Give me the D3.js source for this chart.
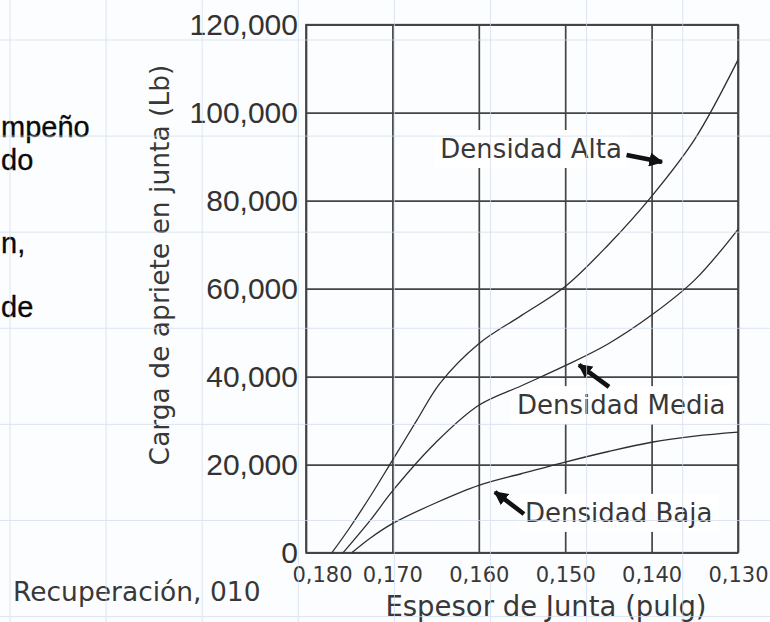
<!DOCTYPE html>
<html lang="es">
<head>
  <meta charset="utf-8">
  <title>Carga de apriete vs espesor de junta</title>
  <script src="https://cdn.jsdelivr.net/npm/d3@7/dist/d3.min.js"></script>
  <style>
    * { box-sizing: border-box; margin: 0; padding: 0; }
    body { background: #fcfdfe; overflow: hidden; }
    svg { display: block; }
    .lbl { font-family: "DejaVu Sans", Verdana, sans-serif; fill: #383838; }
    .ytick text { font-family: "Liberation Sans", Arial, sans-serif; font-size: 30px; fill: #333; }
    .xtick text { font-family: "DejaVu Sans", Verdana, sans-serif; font-size: 21px; fill: #383838; }
    .frag { font-family: "Liberation Sans", Arial, sans-serif; font-size: 29px; fill: #0a0a0a; stroke: #0a0a0a; stroke-width: 0.3px; }
  </style>
</head>
<body>
  <svg id="chart" width="770" height="622"></svg>

  <script>
    // ticks
    const thicknessTicks = [0.180, 0.170, 0.160, 0.150, 0.140, 0.130]
    const thicknessTickLabels = ['0,180', '0,170', '0,160', '0,150', '0,140', '0,130']
    const loadTicks = [0, 20000, 40000, 60000, 80000, 100000, 120000]
    const loadTickLabels = ['0', '20,000', '40,000', '60,000', '80,000', '100,000', '120,000']

    // curves (thickness in, load lb)
    const altaThk  = [0.1770, 0.1750, 0.1725, 0.1700, 0.1672, 0.1645, 0.1600, 0.1550, 0.1500, 0.1450, 0.1400, 0.1350, 0.1300]
    const altaLoad = [0, 5500, 13000, 21000, 30000, 38500, 47500, 54000, 60500, 70000, 81000, 94000, 112000]

    const mediaThk  = [0.1757, 0.1725, 0.1700, 0.1650, 0.1600, 0.1550, 0.1500, 0.1450, 0.1400, 0.1350, 0.1300]
    const mediaLoad = [0, 7500, 14000, 25000, 33500, 38000, 42500, 47500, 54000, 62000, 73500]

    const bajaThk  = [0.1747, 0.1725, 0.1700, 0.1650, 0.1600, 0.1550, 0.1500, 0.1450, 0.1400, 0.1350, 0.1300]
    const bajaLoad = [0, 3400, 6600, 11300, 15300, 18000, 20600, 23000, 25100, 26500, 27400]

    // labels with arrows, in data units
    const labelTexts  = ['Densidad Alta', 'Densidad Media', 'Densidad Baja']
    const labelAt     = [[0.14343, 89700], [0.15558, 31500], [0.15465, 7000]]
    const labelAnchor = ['end', 'start', 'start']
    const arrowTail   = [[0.14290, 90400], [0.14493, 37700], [0.15477, 8800]]
    const arrowTip    = [[0.13880, 88800], [0.14840, 42700], [0.15813, 13800]]

    // cut-off text at the left of the page
    const fragTexts = ['mpeño', 'do', 'n,', 'de']
    const fragBase  = [137, 170, 253, 317]

    const svg = d3.select('#chart')

    const x = d3.scaleLinear().domain([0.180, 0.130]).range([306, 738])
    const y = d3.scaleLinear().domain([0, 120000]).range([552.7, 24.7])
    const W = x.range()[1] - x.range()[0]
    const H = y.range()[0] - y.range()[1]

    // left fragments
    svg.append('g').selectAll('text')
      .data(fragTexts)
      .join('text')
      .attr('class', 'frag')
      .attr('x', 1)
      .attr('y', (d, i) => fragBase[i])
      .text(d => d)

    const plot = svg.append('g')

    // grid
    plot.append('g')
      .attr('transform', 'translate(0,' + y.range()[0] + ')')
      .call(d3.axisBottom(x).tickValues(thicknessTicks).tickSize(-H).tickFormat(''))
      .call(g => g.select('.domain').remove())
      .selectAll('line').attr('stroke', '#444').attr('stroke-width', 1.7)

    plot.append('g')
      .attr('transform', 'translate(' + x.range()[0] + ',0)')
      .call(d3.axisLeft(y).tickValues(loadTicks).tickSize(-W).tickFormat(''))
      .call(g => g.select('.domain').remove())
      .selectAll('line').attr('stroke', '#444').attr('stroke-width', 1.7)

    plot.append('rect')
      .attr('x', x.range()[0]).attr('y', y.range()[1])
      .attr('width', W).attr('height', H)
      .attr('fill', 'none').attr('stroke', '#444').attr('stroke-width', 1.7)

    // label boxes + labels
    const labels = plot.append('g')
    labelTexts.forEach((t, i) => {
      const txt = labels.append('text')
        .attr('class', 'lbl')
        .attr('font-size', 26)
        .attr('x', x(labelAt[i][0]))
        .attr('y', y(labelAt[i][1]))
        .attr('text-anchor', labelAnchor[i])
        .text(t)
      const b = txt.node().getBBox()
      labels.insert('rect', 'text')
        .attr('x', b.x - 6).attr('y', b.y - 4)
        .attr('width', b.width + 12).attr('height', b.height + 8)
        .attr('fill', '#fff')
    })

    // curves
    const line = d3.line()
      .x(d => x(d[0]))
      .y(d => y(d[1]))
      .curve(d3.curveCatmullRom.alpha(0.5))

    const series = [
      d3.zip(altaThk, altaLoad),
      d3.zip(mediaThk, mediaLoad),
      d3.zip(bajaThk, bajaLoad)
    ]

    plot.append('g').selectAll('path')
      .data(series)
      .join('path')
      .attr('d', line)
      .attr('fill', 'none')
      .attr('stroke', '#2e2e2e')
      .attr('stroke-width', 1.3)

    // arrows
    const defs = svg.append('defs')
    defs.append('marker')
      .attr('id', 'head')
      .attr('viewBox', '0 -5 10 10')
      .attr('refX', 9).attr('refY', 0)
      .attr('markerWidth', 14).attr('markerHeight', 14)
      .attr('markerUnits', 'userSpaceOnUse')
      .attr('orient', 'auto')
      .append('path').attr('d', 'M0,-5L10,0L0,5Z').attr('fill', '#111')

    plot.append('g').selectAll('line')
      .data(arrowTip)
      .join('line')
      .attr('x1', (d, i) => x(arrowTail[i][0]))
      .attr('y1', (d, i) => y(arrowTail[i][1]))
      .attr('x2', d => x(d[0]))
      .attr('y2', d => y(d[1]))
      .attr('stroke', '#111')
      .attr('stroke-width', 4.5)
      .attr('marker-end', 'url(#head)')

    // axes labels
    const yAx = svg.append('g')
      .attr('class', 'ytick')
      .attr('transform', 'translate(' + x.range()[0] + ',0)')
      .call(d3.axisLeft(y).tickValues(loadTicks).tickSize(0).tickPadding(8)
        .tickFormat((d, i) => loadTickLabels[i]))
    yAx.select('.domain').remove()

    const xAx = svg.append('g')
      .attr('class', 'xtick')
      .attr('transform', 'translate(0,' + y.range()[0] + ')')
      .call(d3.axisBottom(x).tickValues(thicknessTicks).tickSize(0).tickPadding(14)
        .tickFormat((d, i) => thicknessTickLabels[i]))
    xAx.select('.domain').remove()
    xAx.selectAll('text').attr('dx', (d, i) => i === 0 ? 16 : 0)

    svg.append('text')
      .attr('class', 'lbl')
      .attr('font-size', 27.5)
      .attr('text-anchor', 'middle')
      .attr('x', 546).attr('y', 616)
      .text('Espesor de Junta (pulg)')

    svg.append('text')
      .attr('class', 'lbl')
      .attr('font-size', 26.5)
      .attr('text-anchor', 'middle')
      .attr('transform', 'translate(169,265) rotate(-90)')
      .text('Carga de apriete en junta (Lb)')

    svg.append('text')
      .attr('class', 'lbl')
      .attr('font-size', 26.5)
      .attr('x', 13).attr('y', 601)
      .text('Recuperación, 010')

    // faint page grid over everything
    const step = 96.1
    const pg = svg.append('g').attr('stroke', '#cfdcec').attr('stroke-width', 1).attr('opacity', 0.7)
    pg.selectAll('line.v')
      .data(d3.range(10, 770, step))
      .join('line').attr('class', 'v')
      .attr('x1', d => d).attr('x2', d => d).attr('y1', 0).attr('y2', 622)
    pg.selectAll('line.h')
      .data(d3.range(40, 622, step))
      .join('line').attr('class', 'h')
      .attr('y1', d => d).attr('y2', d => d).attr('x1', 0).attr('x2', 770)
  </script>
</body>
</html>
